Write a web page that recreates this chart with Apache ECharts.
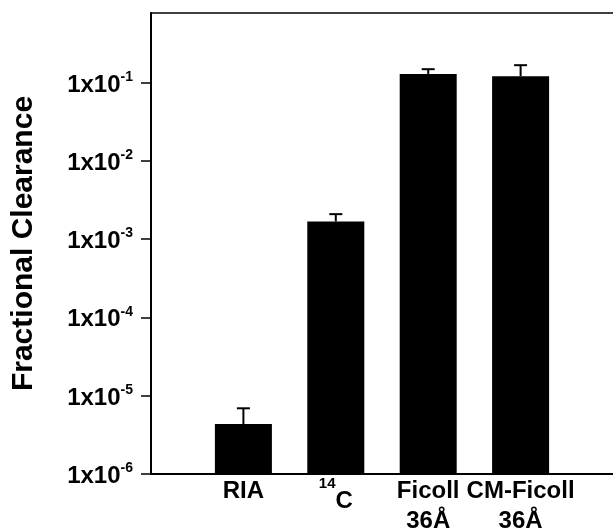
<!DOCTYPE html>
<html><head><meta charset="utf-8">
<script src="https://cdn.jsdelivr.net/npm/echarts@6/dist/echarts.min.js"></script>
<style>html,body{margin:0;padding:0;background:#fff}#c{width:613px;height:529px}</style>
</head><body><div id="c"></div>
<script>
const categories = ['RIA', '14C', 'Ficoll\n36Å', 'CM-Ficoll\n36Å'];
const values = [4.35e-6, 1.68e-3, 0.1285, 0.120];
const errorUpper = [6.9e-6, 2.08e-3, 0.1476, 0.166];
const yTicks = [1e-6, 1e-5, 1e-4, 1e-3, 1e-2, 1e-1];
const yMin = 1e-6, yMax = 0.77;

const FONT = 'Liberation Sans';
const axisData = [''].concat(categories, ['']);
const barData = categories.map((c, i) => [i + 1, values[i]]);
const errData = categories.map((c, i) => [i + 1, values[i], errorUpper[i]]);

function xLabel(v) {
  if (!v) return '';
  const m = /^(\d+)([A-Z].*)$/.exec(v);
  if (m) return '{sup|' + m[1] + '}{c|' + m[2] + '}';
  return v.split('\n').map(s => '{t|' + s + '}').join('\n');
}
function yLabel(v) {
  const e = Math.round(Math.log10(v));
  return '{n|1x10}{s|' + (e < 0 ? '-' + (-e) : e) + '}';
}

const chart = echarts.init(document.getElementById('c'), null, {renderer: 'canvas'});
chart.setOption({
  animation: false,
  backgroundColor: '#fff',
  grid: {left: 151, right: 0, top: 13, bottom: 55, containLabel: false, outerBoundsMode: 'none'},
  xAxis: [{
    type: 'category', data: axisData, boundaryGap: false,
    axisLine: {show: true, lineStyle: {color: '#000', width: 2}},
    axisTick: {show: false},
    axisLabel: {
      interval: 0, margin: 2, formatter: xLabel, color: '#000',
      verticalAlign: 'top',
      rich: {
        t: {fontFamily: FONT, fontWeight: 'bold', fontSize: 24, lineHeight: 30, color: '#000'},
        c: {fontFamily: FONT, fontWeight: 'bold', fontSize: 24, lineHeight: 50, color: '#000'},
        sup: {fontFamily: FONT, fontWeight: 'bold', fontSize: 15, lineHeight: 46, verticalAlign: 'top', color: '#000'}
      }
    }
  }, {
    type: 'category', data: axisData, boundaryGap: false, position: 'top',
    axisLine: {show: true, onZero: false, lineStyle: {color: '#000', width: 1.5}},
    axisTick: {show: false}, axisLabel: {show: false}
  }],
  yAxis: {
    type: 'log', logBase: 10, min: yMin, max: yMax,
    name: 'Fractional Clearance', nameLocation: 'middle', nameGap: 112, nameRotate: 90,
    nameTextStyle: {fontFamily: FONT, fontWeight: 'bold', fontSize: 30, color: '#000'},
    axisLine: {show: true, lineStyle: {color: '#000', width: 2}},
    axisTick: {show: true, length: 10, customValues: yTicks, lineStyle: {color: '#000', width: 1.5}},
    splitLine: {show: false},
    axisLabel: {
      customValues: yTicks, margin: 18, formatter: yLabel, padding: [5, 0, 0, 0],
      rich: {
        n: {fontFamily: FONT, fontWeight: 'bold', fontSize: 24, lineHeight: 30, color: '#000'},
        s: {fontFamily: FONT, fontWeight: 'bold', fontSize: 14, lineHeight: 18, verticalAlign: 'top', color: '#000'}
      }
    }
  },
  series: [{
    type: 'custom',
    data: barData,
    renderItem(params, api) {
      const x = api.value(0), v = api.value(1);
      const top = api.coord([x, v]);
      const base = api.coord([x, yMin]);
      const w = 57;
      return {type: 'rect', shape: {x: top[0] - w / 2, y: top[1], width: w, height: base[1] - top[1]}, style: {fill: '#000'}};
    }
  }, {
    type: 'custom',
    data: errData,
    z: 3,
    renderItem(params, api) {
      const x = api.value(0);
      const a = api.coord([x, api.value(1)]);
      const b = api.coord([x, api.value(2)]);
      const cap = 13;
      return {type: 'group', children: [
        {type: 'line', shape: {x1: a[0], y1: a[1], x2: b[0], y2: b[1]}, style: {stroke: '#000', lineWidth: 2}},
        {type: 'line', shape: {x1: b[0] - cap / 2, y1: b[1], x2: b[0] + cap / 2, y2: b[1]}, style: {stroke: '#000', lineWidth: 2}}
      ]};
    }
  }]
});
</script>
</body></html>
